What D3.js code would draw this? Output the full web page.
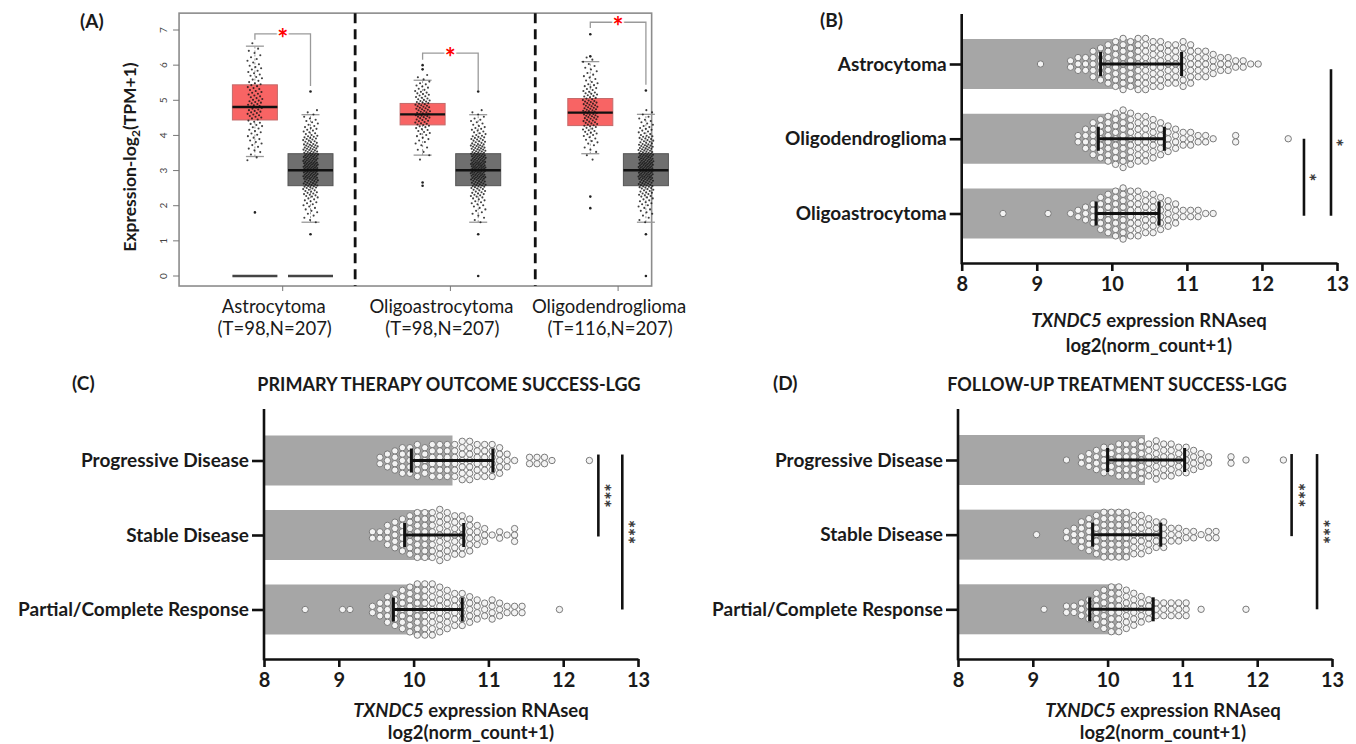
<!DOCTYPE html>
<html>
<head>
<meta charset="utf-8">
<script src="https://cdn.jsdelivr.net/npm/d3@7"></script>
<style>
body{margin:0;background:#fff}
text{font-family:Lato,"Open Sans",sans-serif}
</style>
</head>
<body>
<svg id="fig" width="1356" height="744"></svg>
<script>
// ---------- panel A (GEPIA box plots) ----------
var gepiaGroups = ["Astrocytoma","Oligoastrocytoma","Oligodendroglioma"]
var gepiaSizes = ["(T=98,N=207)","(T=98,N=207)","(T=116,N=207)"]
var gepiaTicks = [0,1,2,3,4,5,6,7]
// [whisker low, q1, median, q3, whisker high]
var tumorBox = [[3.40,4.44,4.81,5.44,6.54],[3.44,4.30,4.60,4.91,5.57],[3.48,4.28,4.65,5.05,6.10]]
var normalBox = [[1.53,2.57,3.01,3.48,4.59],[1.53,2.57,3.01,3.48,4.59],[1.53,2.57,3.01,3.48,4.60]]
var tumorOutliers = [[1.81],[6.00,5.88,2.66,2.57],[6.88,6.25,2.26,1.93]]
var normalOutliers = [[5.25,1.19],[5.25,1.19,0],[5.28,1.19,0]]
var zeroLine = [true,false,false]
// dot counts per 0.25 bin
var tumorHistStart = 3.25
var tumorHist = [[3,5,6,7,8,12,13,10,9,7,7,5,4,1],[2,4,6,9,14,18,17,12,8,4],[2,4,7,11,15,19,17,13,9,6,5,4]]
var normalHistStart = 1.5
var normalHist = [4,6,9,14,22,30,33,28,22,16,10,7,4]
// significance brackets: top, left leg end, right leg end
var bracketTop = [6.89,6.34,7.22]
var bracketLeft = [6.72,6.15,7.06]
var bracketRight = [5.41,5.29,5.44]

// ---------- panels B, C, D ----------
var xTicks = [8,9,10,11,12,13]
var catsB = ["Astrocytoma","Oligodendroglioma","Oligoastrocytoma"]
var meanB = [10.38,10.26,10.21]
var sdLowB = [9.85,9.82,9.79]
var sdHighB = [10.93,10.70,10.63]
var catsCD = ["Progressive Disease","Stable Disease","Partial/Complete Response"]
var meanC = [10.52,10.27,10.18]
var sdLowC = [9.97,9.88,9.73]
var sdHighC = [11.06,10.67,10.65]
var meanD = [10.50,10.30,10.17]
var sdLowD = [10.00,9.80,9.76]
var sdHighD = [11.03,10.71,10.61]

// swarm dots: [bin start (0.1 wide), count]
var swarmB_astro = [[9.0,1],[9.4,2],[9.5,3],[9.6,3],[9.7,5],[9.8,6],[9.9,7],[10.0,8],[10.1,9],[10.2,8],[10.3,9],[10.4,9],[10.5,8],[10.6,8],[10.7,7],[10.8,7],[10.9,8],[11.0,7],[11.1,5],[11.2,5],[11.3,4],[11.4,3],[11.5,3],[11.6,2],[11.7,2],[11.8,1],[11.9,1]]
var swarmB_oligodendro = [[9.5,2],[9.6,4],[9.7,6],[9.8,7],[9.9,8],[10.0,9],[10.1,10],[10.2,9],[10.3,8],[10.4,8],[10.5,7],[10.6,6],[10.7,5],[10.8,4],[10.9,3],[11.0,3],[11.1,2],[11.2,2],[11.3,1],[11.6,2],[12.3,1]]
var swarmB_oligoastro = [[8.5,1],[9.1,1],[9.4,1],[9.5,2],[9.6,3],[9.7,4],[9.8,6],[9.9,7],[10.0,8],[10.1,9],[10.2,8],[10.3,8],[10.4,7],[10.5,7],[10.6,6],[10.7,5],[10.8,4],[10.9,2],[11.0,2],[11.1,2],[11.2,1],[11.3,1]]
var swarmC_prog = [[9.5,2],[9.6,3],[9.7,4],[9.8,5],[9.9,5],[10.0,6],[10.1,5],[10.2,6],[10.3,6],[10.4,6],[10.5,6],[10.6,7],[10.7,7],[10.8,6],[10.9,6],[11.0,6],[11.1,5],[11.2,3],[11.3,1],[11.5,2],[11.6,2],[11.7,2],[11.8,1],[12.3,1]]
var swarmC_stable = [[9.4,2],[9.5,2],[9.6,4],[9.7,5],[9.8,6],[9.9,7],[10.0,8],[10.1,8],[10.2,8],[10.3,9],[10.4,8],[10.5,7],[10.6,7],[10.7,6],[10.8,4],[10.9,3],[11.0,1],[11.1,2],[11.2,1],[11.3,3]]
var swarmC_partial = [[8.5,1],[9.0,1],[9.1,1],[9.4,2],[9.5,3],[9.6,5],[9.7,6],[9.8,7],[9.9,8],[10.0,9],[10.1,9],[10.2,9],[10.3,8],[10.4,7],[10.5,6],[10.6,6],[10.7,5],[10.8,4],[10.9,3],[11.0,4],[11.1,3],[11.2,2],[11.3,2],[11.4,2],[11.9,1]]
var swarmD_prog = [[9.4,1],[9.6,2],[9.7,3],[9.8,4],[9.9,5],[10.0,5],[10.1,6],[10.2,6],[10.3,6],[10.4,7],[10.5,6],[10.6,7],[10.7,6],[10.8,6],[10.9,5],[11.0,5],[11.1,4],[11.2,3],[11.3,2],[11.6,2],[11.8,1],[12.3,1]]
var swarmD_stable = [[9.0,1],[9.4,2],[9.5,3],[9.6,5],[9.7,6],[9.8,7],[9.9,8],[10.0,8],[10.1,8],[10.2,8],[10.3,7],[10.4,7],[10.5,6],[10.6,5],[10.7,5],[10.8,3],[10.9,3],[11.0,2],[11.1,2],[11.2,1],[11.3,2],[11.4,2]]
var swarmD_partial = [[9.1,1],[9.4,2],[9.5,2],[9.6,3],[9.7,4],[9.8,6],[9.9,7],[10.0,8],[10.1,8],[10.2,7],[10.3,6],[10.4,5],[10.5,4],[10.6,3],[10.7,3],[10.8,3],[10.9,3],[11.0,3],[11.2,1],[11.8,1]]

// significance lines: [from cat, to cat, x value, label]
var sigB = [[1.0,2.03,12.56,"*"],[0.07,2.03,12.92,"*"]]
var sigC = [[-0.08,1.02,12.47,"***"],[-0.08,2.0,12.79,"***"]]
var sigD = [[-0.08,1.02,12.46,"***"],[-0.08,2.0,12.80,"***"]]

var svg = d3.select("#fig")
var ink = "#1a1a1a"

function panelLabel(t,x,y){
    svg.append("text").text(t).attr("x",x).attr("y",y)
        .attr("font-size",19).attr("font-weight","bold").attr("fill",ink)
}

function dotsFromHist(start,step,counts,seed){
    var pts = []
    counts.forEach(function(n,b){
        for(var j=0;j<n;j++){
            var k = pts.length+seed
            pts.push({v:start+b*step+(j+0.5)/n*step, dx:((k*0.618034)%1-0.5)*15})
        }
    })
    return pts
}

function drawPanelA(){
    var y = d3.scaleLinear().domain([0,7]).range([276,30])
    var x = d3.scaleLinear().domain([0,2]).range([282.7,618.1])
    var off = 27.8, bw = 45
    var g = svg.append("g")

    g.append("rect").attr("x",x(-0.618)).attr("y",y(7.48)).attr("width",x(2.2)-x(-0.618))
        .attr("height",y(-0.285)-y(7.48)).attr("fill","none").attr("stroke","#8c8c8c").attr("stroke-width",1.6)

    // separators
    g.selectAll(".sep").data([0.432,1.506]).enter().append("line")
        .attr("x1",function(d){return x(d)}).attr("x2",function(d){return x(d)})
        .attr("y1",y(7.48)).attr("y2",y(-0.285))
        .attr("stroke","#111").attr("stroke-width",2.8).attr("stroke-dasharray","10,6")

    // y ticks
    g.selectAll(".yt").data(gepiaTicks).enter().append("line")
        .attr("x1",x(-0.618)-6).attr("x2",x(-0.618)).attr("y1",function(d){return y(d)}).attr("y2",function(d){return y(d)})
        .attr("stroke","#777").attr("stroke-width",1)
    g.selectAll(".ytl").data(gepiaTicks).enter().append("text")
        .text(function(d){return d})
        .attr("transform",function(d){return "translate("+(x(-0.618)-12)+","+y(d)+") rotate(-90)"})
        .attr("text-anchor","middle").attr("font-size",10).attr("fill","#444")

    // x ticks + labels
    g.selectAll(".xt").data(gepiaGroups).enter().append("line")
        .attr("x1",function(d,i){return x(i)}).attr("x2",function(d,i){return x(i)})
        .attr("y1",y(-0.285)).attr("y2",y(-0.285)+5).attr("stroke","#777")
    g.selectAll(".xl").data(gepiaGroups).enter().append("text")
        .text(function(d){return d}).attr("x",function(d,i){return x(i)-9}).attr("y",313)
        .attr("text-anchor","middle").attr("font-size",18.5).attr("fill",ink)
    g.selectAll(".xl2").data(gepiaSizes).enter().append("text")
        .text(function(d){return d}).attr("x",function(d,i){return x(i)-8}).attr("y",335)
        .attr("text-anchor","middle").attr("font-size",18.5).attr("fill",ink)

    // y title
    var yt = g.append("text").attr("transform","translate(136,157) rotate(-90)")
        .attr("text-anchor","middle").attr("font-size",17.5).attr("font-weight","bold").attr("fill",ink)
    yt.append("tspan").text("Expression-log")
    yt.append("tspan").text("2").attr("font-size",12).attr("dy",4)
    yt.append("tspan").text("(TPM+1)").attr("dy",-4)

    gepiaGroups.forEach(function(name,i){
        var boxes = [{s:tumorBox[i],c:x(i)-off,fill:"#f86464",stroke:"#c46a6a",out:tumorOutliers[i],
                      pts:dotsFromHist(tumorHistStart,0.25,tumorHist[i],i*7)},
                     {s:normalBox[i],c:x(i)+off,fill:"#6f6f6f",stroke:"#555",out:normalOutliers[i],
                      pts:dotsFromHist(normalHistStart,0.25,normalHist,i*11+3)}]
        boxes.forEach(function(b){
            var s = b.s
            g.append("line").attr("x1",b.c).attr("x2",b.c).attr("y1",y(s[0])).attr("y2",y(s[4]))
                .attr("stroke","#999").attr("stroke-width",1).attr("stroke-dasharray","2,2")
            g.selectAll(null).data([s[0],s[4]]).enter().append("line")
                .attr("x1",b.c-9).attr("x2",b.c+9).attr("y1",function(d){return y(d)}).attr("y2",function(d){return y(d)})
                .attr("stroke","#999").attr("stroke-width",1.3)
            g.append("rect").attr("x",b.c-bw/2).attr("y",y(s[3])).attr("width",bw).attr("height",y(s[1])-y(s[3]))
                .attr("fill",b.fill).attr("stroke",b.stroke).attr("stroke-width",1)
            g.append("line").attr("x1",b.c-bw/2).attr("x2",b.c+bw/2).attr("y1",y(s[2])).attr("y2",y(s[2]))
                .attr("stroke","#111").attr("stroke-width",2.4)
            g.selectAll(null).data(b.pts).enter().append("circle")
                .attr("cx",function(d){return b.c+d.dx}).attr("cy",function(d){return y(d.v)})
                .attr("r",1.05).attr("fill","#111").attr("opacity",0.8)
            g.selectAll(null).data(b.out).enter().append("circle")
                .attr("cx",b.c).attr("cy",function(d){return y(d)}).attr("r",1.3).attr("fill","#222")
            if(zeroLine[i]){
                g.append("line").attr("x1",b.c-bw/2).attr("x2",b.c+bw/2).attr("y1",y(0)).attr("y2",y(0))
                    .attr("stroke","#444").attr("stroke-width",2.4)
            }
        })
        // bracket
        var l = x(i)-off, r = x(i)+off
        g.append("path")
            .attr("d","M"+l+","+y(bracketLeft[i])+"V"+y(bracketTop[i])+"H"+r+"V"+y(bracketRight[i]))
            .attr("fill","none").attr("stroke","#9a9a9a").attr("stroke-width",1.3)
        g.append("text").text("*").attr("x",x(i)).attr("y",y(bracketTop[i])+14)
            .attr("text-anchor","middle").attr("font-size",26).attr("font-weight","bold").attr("fill","#f00")
            .attr("stroke","#fff").attr("stroke-width",3).attr("paint-order","stroke")
    })
}

function drawBarPanel(c){
    var x = d3.scaleLinear().domain([8,13]).range([c.x0,c.x1])
    var y = d3.scalePoint().domain(c.cats).range([c.yc0,c.yc1])
    var step = (c.yc1-c.yc0)/2
    var g = svg.append("g")

    g.selectAll(".bar").data(c.mean).enter().append("rect")
        .attr("x",x(8)).attr("y",function(d,i){return y(c.cats[i])-25})
        .attr("width",function(d){return x(d)-x(8)}).attr("height",50).attr("fill","#a6a6a6")

    c.swarm.forEach(function(bins,i){
        var pts = []
        bins.forEach(function(b){
            for(var j=0;j<b[1];j++) pts.push({v:b[0]+0.05, off:(j-(b[1]-1)/2)*6.4})
        })
        g.selectAll(null).data(pts).enter().append("circle")
            .attr("cx",function(d){return x(d.v)}).attr("cy",function(d){return y(c.cats[i])+d.off})
            .attr("r",3.2).attr("fill","#f3f3f3").attr("stroke","#7a7a7a").attr("stroke-width",1)
    })

    // mean +- sd
    c.cats.forEach(function(cat,i){
        var cy = y(cat)
        g.append("line").attr("x1",x(c.lo[i])).attr("x2",x(c.hi[i])).attr("y1",cy).attr("y2",cy)
            .attr("stroke","#111").attr("stroke-width",3)
        g.selectAll(null).data([c.lo[i],c.hi[i]]).enter().append("line")
            .attr("x1",function(d){return x(d)}).attr("x2",function(d){return x(d)})
            .attr("y1",cy-12).attr("y2",cy+12).attr("stroke","#111").attr("stroke-width",3)
    })

    // axes
    var xa = g.append("g").attr("transform","translate(0,"+c.yAxis+")")
        .call(d3.axisBottom(x).tickValues(xTicks).tickFormat(d3.format("d")).tickSize(8).tickSizeOuter(0))
    xa.select(".domain").attr("stroke","#111").attr("stroke-width",2.6)
    xa.selectAll(".tick line").attr("stroke","#111").attr("stroke-width",2.6)
    xa.selectAll("text").attr("font-size",20).attr("font-weight","bold").attr("fill",ink)
        .attr("font-family","Lato").attr("dy","0.85em")

    var ya = g.append("g").attr("transform","translate("+c.x0+",0)")
        .call(d3.axisLeft(y).tickSize(12).tickPadding(3))
    ya.select(".domain").remove()
    ya.selectAll(".tick line").attr("stroke","#111").attr("stroke-width",2.6)
    ya.selectAll("text").attr("font-size",19).attr("font-weight","bold").attr("fill",ink)
        .attr("font-family","Lato")
    g.append("line").attr("x1",c.x0).attr("x2",c.x0).attr("y1",c.yTop).attr("y2",c.yAxis+1.3)
        .attr("stroke","#111").attr("stroke-width",2.6)

    // significance
    c.sig.forEach(function(s){
        var y1 = c.yc0+s[0]*step, y2 = c.yc0+s[1]*step, sx = x(s[2])
        g.append("line").attr("x1",sx).attr("x2",sx).attr("y1",y1).attr("y2",y2)
            .attr("stroke","#111").attr("stroke-width",2.6)
        g.append("text").text(s[3])
            .attr("transform","translate("+(sx+c.starOff)+","+((y1+y2)/2)+") rotate(90)")
            .attr("text-anchor","middle").attr("font-size",19).attr("fill","#333")
            .attr("stroke","#333").attr("stroke-width",0.4)
    })

    // axis title
    var t1 = g.append("text").attr("x",c.tx).attr("y",c.t1y).attr("text-anchor","middle")
        .attr("font-size",18.5).attr("font-weight","bold").attr("fill",ink)
    t1.append("tspan").text("TXNDC5").attr("font-style","italic")
    t1.append("tspan").text(" expression RNAseq")
    g.append("text").text("log2(norm_count+1)").attr("x",c.tx).attr("y",c.t2y)
        .attr("text-anchor","middle").attr("font-size",18.5).attr("font-weight","bold").attr("fill",ink)

    if(c.title){
        g.append("text").text(c.title).attr("x",c.titleX).attr("y",c.titleY).attr("text-anchor","middle")
            .attr("font-size",18).attr("font-weight","bold").attr("fill",ink)
    }
}

drawPanelA()
panelLabel("(A)",80,28)
panelLabel("(B)",820,27)
panelLabel("(C)",72,390)
panelLabel("(D)",773,390)

drawBarPanel({x0:961.7,x1:1337,yc0:64,yc1:213.5,yTop:14,yAxis:263,cats:catsB,mean:meanB,lo:sdLowB,hi:sdHighB,
    swarm:[swarmB_astro,swarmB_oligodendro,swarmB_oligoastro],sig:sigB,starOff:-2,tx:1149,t1y:327,t2y:352})
drawBarPanel({x0:264,x1:638,yc0:460.5,yc1:609.5,yTop:409,yAxis:659,cats:catsCD,mean:meanC,lo:sdLowC,hi:sdHighC,
    swarm:[swarmC_prog,swarmC_stable,swarmC_partial],sig:sigC,starOff:-1,tx:471,t1y:717,t2y:739,
    title:"PRIMARY THERAPY OUTCOME SUCCESS-LGG",titleX:449,titleY:391})
drawBarPanel({x0:958,x1:1332,yc0:460,yc1:609.3,yTop:409,yAxis:659,cats:catsCD,mean:meanD,lo:sdLowD,hi:sdHighD,
    swarm:[swarmD_prog,swarmD_stable,swarmD_partial],sig:sigD,starOff:-1,tx:1163,t1y:717,t2y:739,
    title:"FOLLOW-UP TREATMENT SUCCESS-LGG",titleX:1117,titleY:391})
</script>
</body>
</html>
